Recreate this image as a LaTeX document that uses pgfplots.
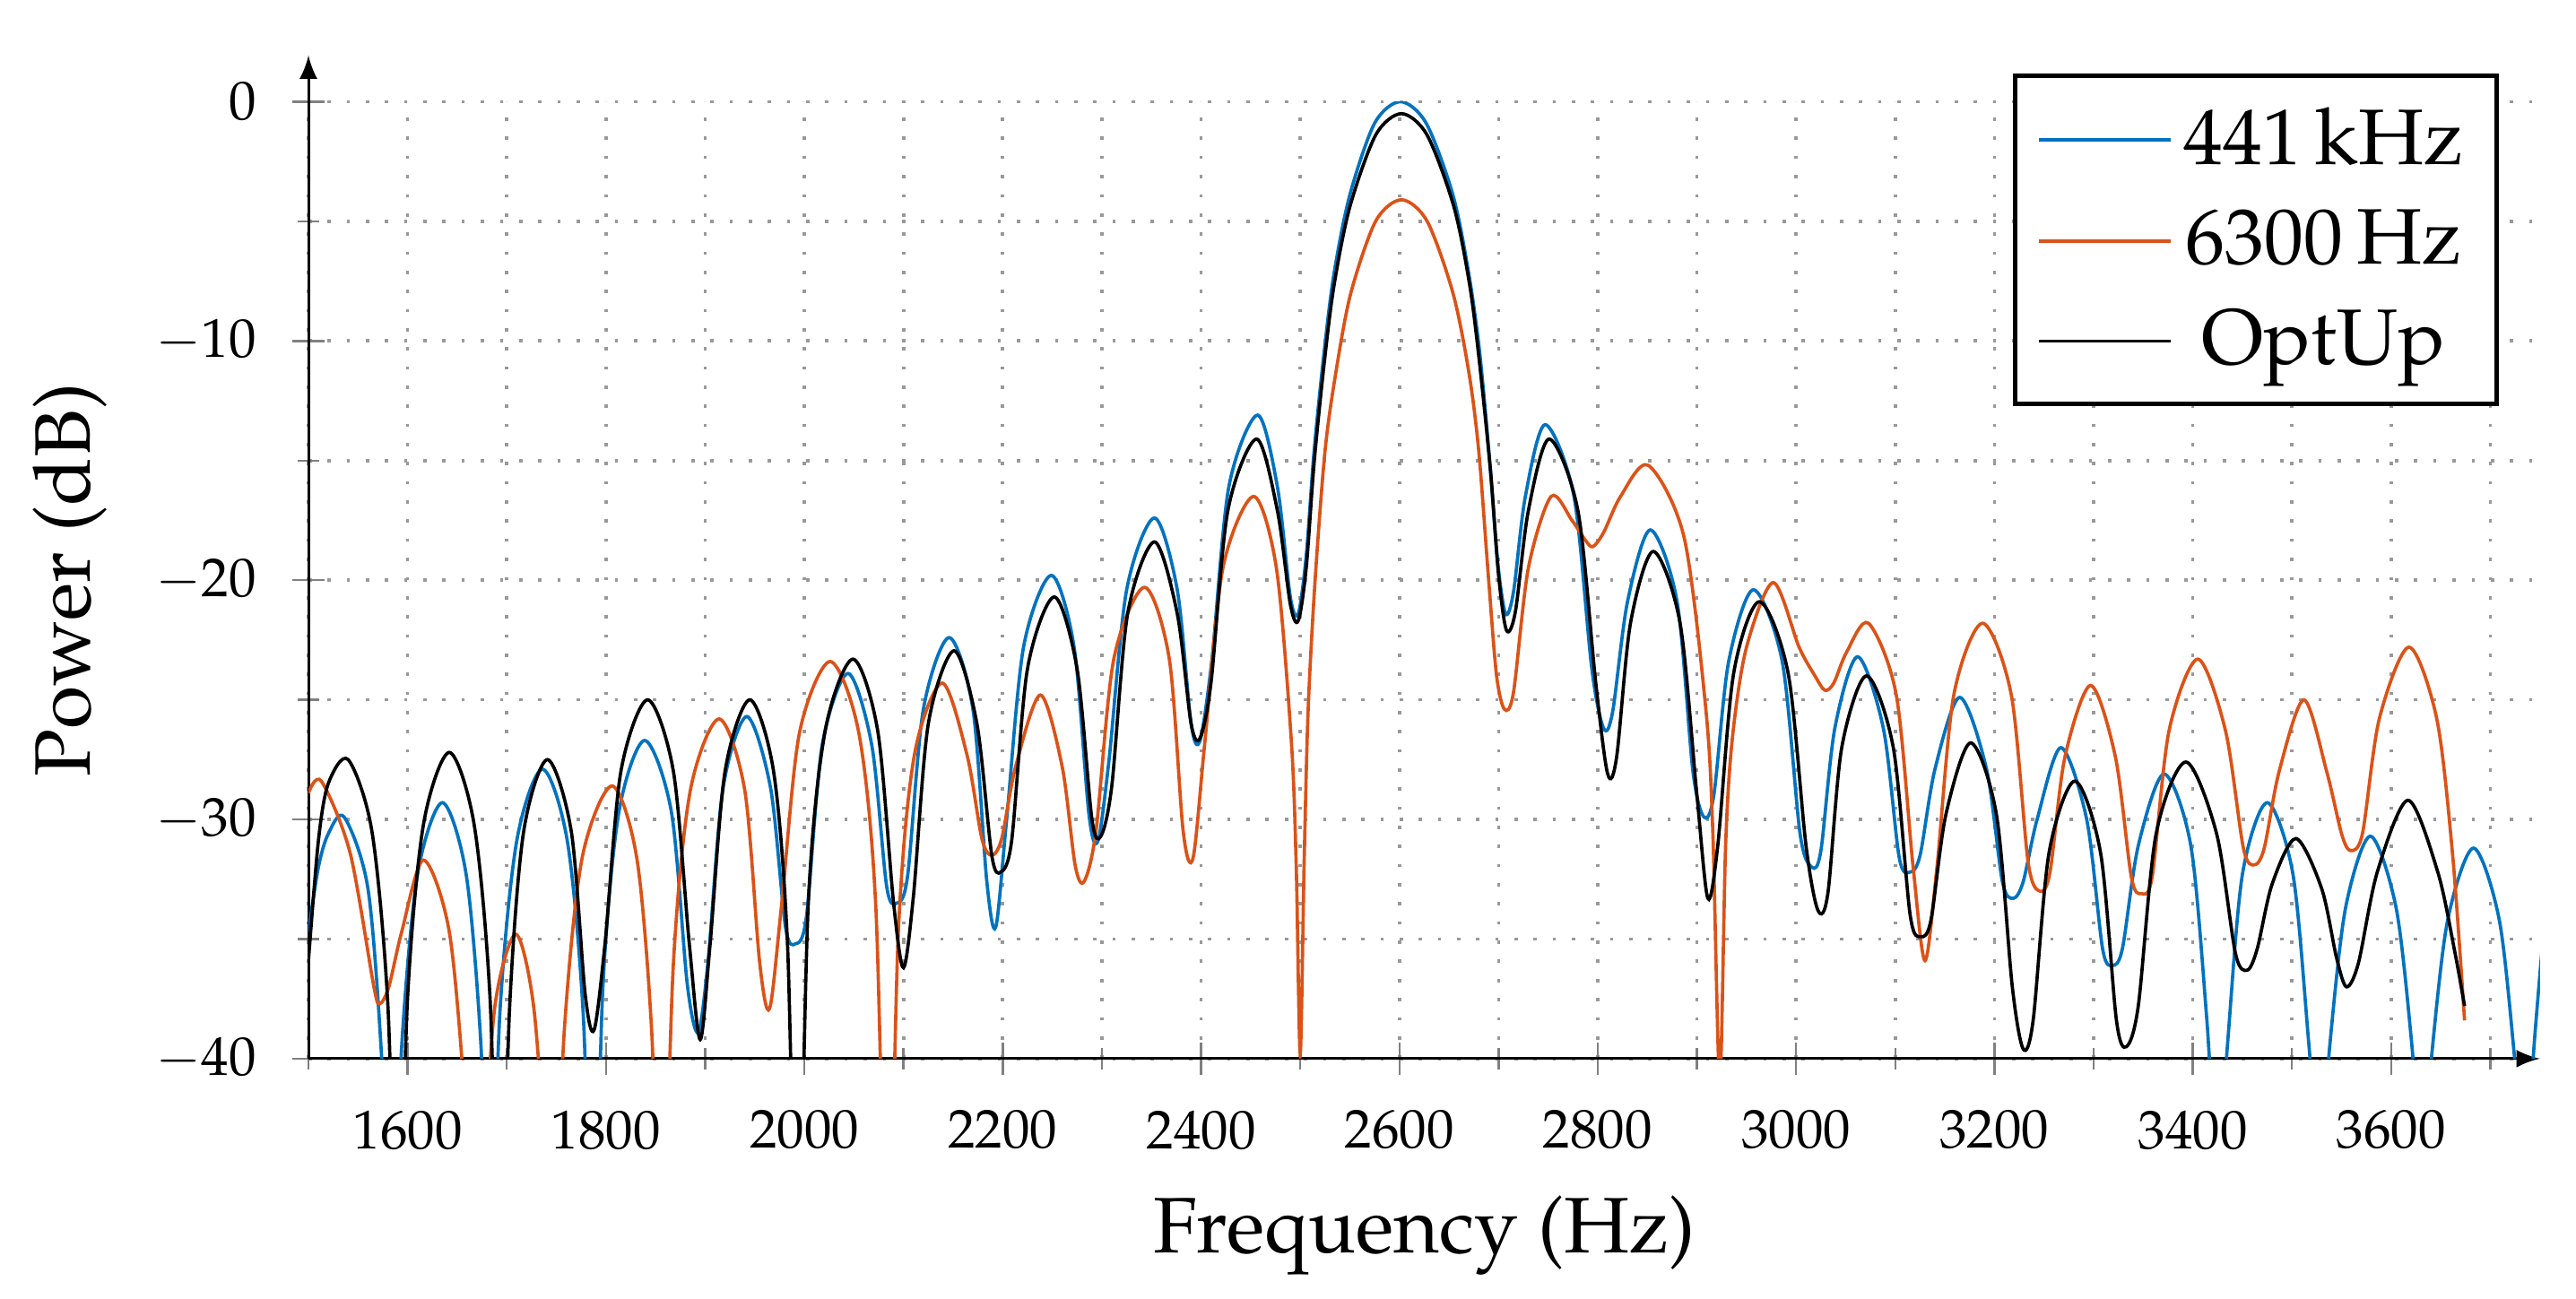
\documentclass[border=0pt]{standalone}
\usepackage[T1]{fontenc}
\usepackage{mathpazo}
\usepackage{pgfplots}
\pgfplotsset{compat=1.18}
\definecolor{mblue}{rgb}{0,0.447,0.741}
\definecolor{morange}{rgb}{0.85,0.325,0.098}
\begin{document}
\begin{tikzpicture}
\useasboundingbox (-56.4pt,-43.8pt) rectangle (414.6pt,193.6pt);
\begin{axis}[
  at={(0,0)}, anchor=south west,
  width=408pt, height=175pt, scale only axis,
  xmin=1500, xmax=3750, ymin=-40, ymax=0,
  axis lines=left,
  axis line style={line width=0.5pt, -latex},
  y axis line style={shorten >=-8.5pt},
  xtick={1600,1800,...,3600},
  minor xtick={1500,1700,...,3700},
  ytick={-40,-30,...,0},
  minor ytick={-35,-25,...,-5},
  /pgf/number format/1000 sep={},
  grid=both,
  major grid style={gray!80, line width=0.6pt, dash pattern=on 0.6pt off 2.9pt},
  minor grid style={gray!80, line width=0.6pt, dash pattern=on 0.6pt off 2.9pt},
  tick align=center,
  major tick length=6pt, minor tick length=4pt,
  tick style={gray, line width=0.4pt},
  ticklabel style={font=\normalsize},
  xticklabel style={yshift=-3pt},
  yticklabel style={xshift=-3pt},
  xlabel={Frequency (Hz)},
  ylabel={Power (dB)},
  label style={font=\Large},
  xlabel style={at={(axis description cs:0.5,-0.185)}, anchor=center},
  ylabel style={at={(axis description cs:-0.107,0.5)}, anchor=center},
  legend style={at={(axis description cs:0.9815,1.029)}, anchor=north east,
    draw=black, line width=0.8pt, font=\Large, fill=white,
    row sep=2.8pt, inner xsep=4pt, inner ysep=3.7pt},
  legend cell align=center,
  legend image code/.code={\draw[#1, line width=0.6pt] (0cm,0cm) -- (0.85cm,0cm);},
  every axis plot/.append style={line width=0.6pt, smooth},
]
\addplot[mblue] coordinates {
(1500,-34.7) (1510,-32.0) (1520,-30.6) (1536,-29.9) (1560,-32.9) (1574,-40.1) (1584,-50)
(1594,-39.5) (1610,-32.3) (1635,-29.3) (1659,-32.3) (1674,-39.5) (1683,-50)
(1693,-38.1) (1710,-30.9) (1736,-27.9) (1761,-30.9) (1777,-38.1) (1787,-50)
(1797,-36.9) (1813,-29.7) (1839,-26.7) (1866,-29.7) (1882,-36.9) (1893,-38.9)
(1903,-35.9) (1918,-28.7) (1942,-25.7) (1966,-28.7) (1981,-34.5) (1991,-35.2)
(2002,-34.1) (2018,-26.9) (2044,-23.9) (2068,-26.9) (2083,-32.8) (2093,-33.5)
(2104,-32.4) (2120,-25.4) (2146,-22.4) (2170,-25.4) (2184,-32.6) (2193,-34.5)
(2204,-30.0) (2221,-22.8) (2249,-19.8) (2272,-22.8) (2287,-29.8) (2296,-30.9)
(2307,-27.6) (2325,-20.4) (2353,-17.4) (2376,-20.4) (2390,-26.0) (2399,-26.7)
(2411,-23.3) (2428,-16.1) (2457,-13.1) (2477,-16.1) (2490,-20.7) (2498,-21.4)
(2506,-19.0) (2514,-14.6) (2524,-10.5) (2534,-7.2) (2550,-3.9) (2575,-0.9) (2601,0.0)
(2627,-0.9) (2654,-3.9) (2670,-7.2) (2681,-10.5) (2691,-15.0) (2699,-19.2) (2707,-21.4)
(2715,-20.5) (2727,-16.5) (2747,-13.5) (2776,-16.5) (2794,-23.7) (2806,-26.2)
(2815,-25.5) (2830,-20.9) (2853,-17.9) (2880,-20.9) (2896,-28.0) (2907,-29.9)
(2917,-29.0) (2932,-23.4) (2957,-20.4) (2986,-23.4) (3004,-30.6) (3016,-32.0)
(3025,-31.3) (3039,-26.2) (3062,-23.2) (3088,-26.2) (3104,-31.6) (3115,-32.2)
(3125,-31.5) (3140,-27.9) (3165,-24.9) (3192,-27.9) (3208,-32.6) (3219,-33.3)
(3229,-32.6) (3243,-30.0) (3267,-27.0) (3293,-30.0) (3309,-35.4) (3319,-36.1)
(3329,-35.4) (3345,-31.1) (3371,-28.1) (3398,-31.1) (3414,-38.3) (3425,-45)
(3435,-39.4) (3450,-32.3) (3475,-29.3) (3501,-32.3) (3517,-39.4) (3528,-45)
(3538,-39.5) (3554,-33.7) (3579,-30.7) (3605,-33.7) (3621,-39.5) (3631,-45)
(3641,-39.8) (3657,-34.2) (3683,-31.2) (3709,-34.2) (3725,-40.2) (3735,-45)
(3744,-39.5) (3752,-35.5)
};
\addlegendentry{441\,kHz}
\addplot[morange] coordinates {
(1500,-28.9) (1513,-28.4) (1542,-31.4) (1566,-37.0) (1572,-37.7)
(1581,-37.0) (1594,-34.7) (1616,-31.7) (1642,-34.7) (1658,-41.9) (1668,-50)
(1676,-45.0) (1688,-37.8) (1709,-34.8) (1727,-37.8) (1740,-45.0) (1746,-50)
(1758,-38.8) (1776,-31.6) (1806,-28.6) (1831,-31.6) (1846,-38.8) (1856,-50)
(1868,-36.0) (1885,-28.8) (1914,-25.8) (1940,-28.8) (1955,-36.0) (1965,-37.9)
(1977,-33.6) (1995,-26.4) (2026,-23.4) (2055,-26.4) (2072,-33.6) (2084,-50)
(2095,-34.5) (2111,-27.3) (2139,-24.3) (2164,-27.3) (2179,-30.8) (2189,-31.5)
(2199,-30.8) (2213,-27.8) (2238,-24.8) (2260,-27.8) (2273,-31.9) (2282,-32.6)
(2294,-30.5) (2312,-23.3) (2343,-20.3) (2368,-23.3) (2382,-30.5) (2392,-31.6)
(2404,-26.7) (2422,-19.5) (2453,-16.5) (2476,-19.5) (2491,-26.7) (2496,-32.0) (2500,-39.8)
(2504,-31.7) (2508,-25.4) (2515,-20.0) (2525,-14.6) (2536,-11.3) (2551,-8.0) (2576,-5.0) (2602,-4.1)
(2628,-5.0) (2654,-8.0) (2670,-11.3) (2680,-14.6) (2690,-20.0) (2698,-24.0) (2706,-25.4)
(2715,-24.7) (2730,-19.5) (2753,-16.5) (2774,-17.5) (2787,-18.3) (2795,-18.6)
(2806,-18.0) (2823,-16.5) (2851,-15.2) (2887,-18.2) (2909,-25.4) (2916,-30.5) (2923,-41)
(2929,-31.0) (2936,-26.5) (2950,-22.8) (2977,-20.1) (3003,-22.8) (3019,-24.0) (3029,-24.6)
(3038,-24.3) (3051,-23.0) (3073,-21.8) (3101,-24.8) (3118,-32.0) (3130,-35.9)
(3142,-32.0) (3159,-24.8) (3188,-21.8) (3217,-24.8) (3234,-31.8) (3246,-33.0)
(3256,-32.2) (3271,-27.4) (3297,-24.4) (3322,-27.4) (3338,-32.4) (3348,-33.1)
(3359,-32.4) (3376,-26.3) (3405,-23.3) (3433,-26.3) (3451,-31.2) (3462,-31.9)
(3472,-31.2) (3487,-28.0) (3512,-25.0) (3535,-28.0) (3550,-30.6) (3559,-31.3)
(3571,-30.6) (3588,-25.8) (3618,-22.8) (3646,-25.8) (3662,-31.5) (3674,-38.4)
};
\addlegendentry{6300\,Hz}
\addplot[black] coordinates {
(1500,-35.9) (1510,-30.9) (1520,-28.5) (1540,-27.5) (1564,-30.5) (1580,-37.7) (1590,-50)
(1600,-37.4) (1616,-30.2) (1642,-27.2) (1667,-30.2) (1683,-37.4) (1693,-50)
(1703,-37.7) (1717,-30.5) (1741,-27.5) (1765,-30.5) (1779,-37.3) (1788,-38.8)
(1799,-35.2) (1815,-28.0) (1842,-25.0) (1868,-28.0) (1884,-35.2) (1895,-39.2)
(1905,-35.2) (1920,-28.0) (1945,-25.0) (1969,-28.0) (1983,-35.2) (1993,-50)
(2004,-33.5) (2021,-26.3) (2049,-23.3) (2074,-26.3) (2090,-33.5) (2100,-36.2)
(2110,-33.2) (2125,-26.0) (2151,-22.95) (2174,-26.0) (2189,-31.5) (2198,-32.2)
(2209,-30.9) (2225,-23.7) (2252,-20.7) (2275,-23.7) (2290,-30.0) (2299,-30.7)
(2310,-28.6) (2326,-21.4) (2353,-18.4) (2376,-21.4) (2390,-26.0) (2399,-26.6)
(2410,-24.3) (2427,-17.1) (2456,-14.1) (2477,-17.1) (2490,-21.0) (2498,-21.7)
(2506,-19.5) (2514,-15.1) (2524,-11.0) (2534,-7.7) (2550,-4.4) (2576,-1.4) (2602,-0.5)
(2628,-1.4) (2655,-4.4) (2671,-7.7) (2681,-11.0) (2692,-15.5) (2700,-19.8) (2708,-22.1)
(2717,-21.3) (2730,-17.1) (2751,-14.1) (2780,-17.1) (2798,-24.3) (2810,-28.1)
(2819,-27.4) (2833,-21.8) (2856,-18.8) (2883,-21.8) (2900,-29.0) (2911,-33.3)
(2921,-31.1) (2937,-23.9) (2963,-20.9) (2992,-23.9) (3010,-31.1) (3022,-33.8)
(3032,-33.1) (3046,-27.0) (3071,-24.0) (3098,-27.0) (3115,-34.0) (3126,-34.9)
(3136,-34.2) (3151,-29.8) (3176,-26.8) (3202,-29.8) (3218,-37.0) (3229,-39.6)
(3239,-38.4) (3255,-31.4) (3281,-28.4) (3307,-31.4) (3323,-38.4) (3333,-39.5)
(3345,-37.8) (3363,-30.6) (3393,-27.6) (3424,-30.6) (3443,-35.6) (3455,-36.3)
(3465,-35.4) (3480,-32.7) (3504,-30.8) (3530,-32.9) (3545,-35.8) (3555,-37.0)
(3567,-36.0) (3586,-32.2) (3617,-29.2) (3647,-32.2) (3664,-35.5) (3674,-37.8)
};
\addlegendentry{OptUp}
\end{axis}
\end{tikzpicture}
\end{document}
